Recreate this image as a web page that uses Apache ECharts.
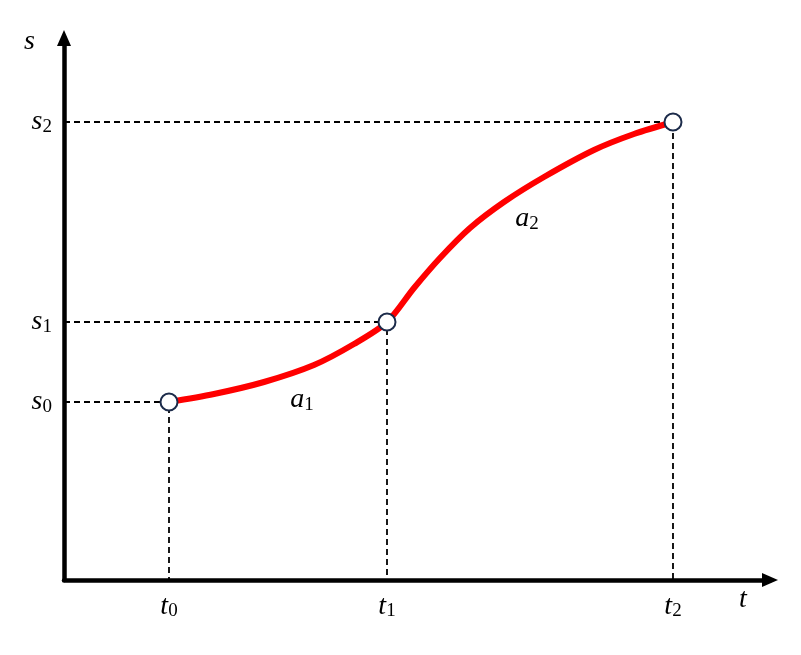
<!DOCTYPE html>
<html><head><meta charset="utf-8">
<script src="https://cdn.jsdelivr.net/npm/echarts@6/dist/echarts.min.js"></script>
<style>html,body{margin:0;padding:0;background:#fff}#c{width:801px;height:655px}</style>
</head><body><div id="c"></div>
<script>
// key times (x) and positions (y)
const tValues = [105, 323, 609];
const sValues = [178, 258, 458];
const tLabels = ['0', '1', '2'];
const sLabels = ['0', '1', '2'];
// s(t) curve samples
const curveT = [105, 150, 200, 250, 290, 323, 350, 376, 406, 440, 480, 530, 570, 609];
const curveS = [178, 186, 198, 215, 236, 258, 292, 322, 352, 378, 403, 430, 446, 458];
// annotations
const annoNames = ['1', '2'];
const annoT = [238, 463];
const annoS = [180, 361];

const serif = 'Liberation Serif';
const rich = {
  i: {fontFamily: serif, fontStyle: 'italic', fontSize: 28, color: '#000'},
  sub: {fontFamily: serif, fontSize: 19, color: '#000', padding: [10, 0, 0, 0]}
};

const dashed = tValues.map((t, k) => ({
  type: 'line', symbol: 'none', silent: true, z: 1,
  lineStyle: {color: '#000', width: 1.8, type: [6, 4]},
  data: [[0, sValues[k]], [t, sValues[k]], [t, 0]]
}));

const axisLineStyle = {lineStyle: {color: '#000', width: 4.5}, symbol: ['none', 'triangle'], symbolSize: [14, 16]};

const chart = echarts.init(document.getElementById('c'));
chart.setOption({
  animation: false,
  grid: {left: 64, right: 31, top: 38, bottom: 75},
  xAxis: {
    type: 'value', min: 0, max: 706,
    splitLine: {show: false},
    axisLine: axisLineStyle,
    axisTick: {show: false},
    axisLabel: {
      customValues: tValues, margin: 12, rich: rich,
      formatter: v => '{i|t}{sub|' + tLabels[tValues.indexOf(v)] + '}'
    }
  },
  yAxis: {
    type: 'value', min: 0, max: 542,
    splitLine: {show: false},
    axisLine: axisLineStyle,
    axisTick: {show: false},
    axisLabel: {
      customValues: sValues, margin: 12, rich: rich,
      formatter: v => '{i|s}{sub|' + sLabels[sValues.indexOf(v)] + '}'
    }
  },
  graphic: [
    {type: 'text', left: 24, top: 28, style: {text: 's', font: 'italic 28px "Liberation Serif"', fill: '#000'}},
    {type: 'text', left: 739, top: 586, style: {text: 't', font: 'italic 28px "Liberation Serif"', fill: '#000'}}
  ],
  series: [
    ...dashed,
    {
      type: 'line', smooth: 0.3, symbol: 'none', z: 3,
      lineStyle: {color: '#ff0000', width: 6},
      data: curveT.map((t, k) => [t, curveS[k]])
    },
    {
      type: 'scatter', z: 5, symbol: 'circle', symbolSize: 17,
      itemStyle: {color: '#fff', opacity: 1, borderColor: '#1c2b4a', borderWidth: 2},
      data: tValues.map((t, k) => [t, sValues[k]])
    },
    {
      type: 'scatter', symbolSize: 0, z: 4,
      itemStyle: {opacity: 1},
      label: {show: true, position: 'inside', rich: rich,
        formatter: p => '{i|a}{sub|' + annoNames[p.dataIndex] + '}'},
      data: annoT.map((t, k) => [t, annoS[k]])
    }
  ]
});
</script></body></html>
